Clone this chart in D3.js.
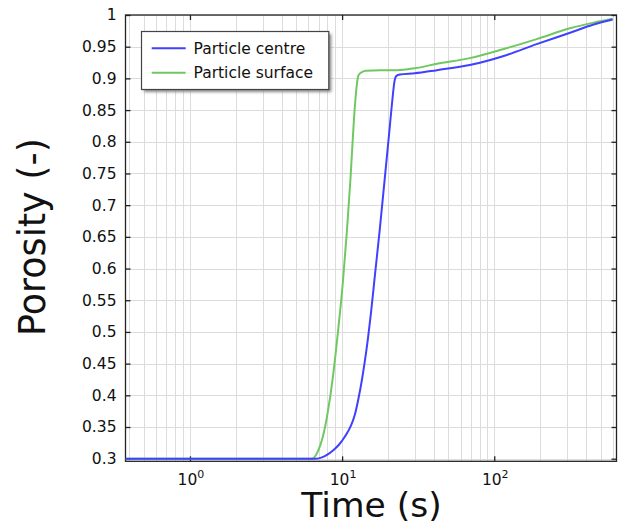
<!DOCTYPE html>
<html><head><meta charset="utf-8">
<script src="https://cdn.jsdelivr.net/npm/d3@7"></script>
<style>body{margin:0;background:#fff}svg{display:block}text{font-family:"DejaVu Sans",sans-serif}</style>
</head><body><svg id="c" width="623" height="525"></svg>
<script>
const seriesNames = ["Particle centre", "Particle surface"];
const seriesColors = ["#4040ff", "#70c862"];
const centreTime = [0.377, 2, 5, 6.73, 7.37, 7.95, 8.71, 9.53, 10.44, 11.43, 12.15, 12.81, 13.51, 14.13, 14.79, 15.48, 16.44, 17.74, 19.12, 20.32, 21.27, 22.08, 22.76, 24.01, 30, 42, 69, 114, 190, 315, 450, 600];
const centrePorosity = [0.3, 0.3, 0.3, 0.3, 0.302, 0.306, 0.313, 0.322, 0.335, 0.352, 0.37, 0.395, 0.425, 0.455, 0.49, 0.53, 0.59, 0.665, 0.745, 0.81, 0.86, 0.895, 0.904, 0.906, 0.908, 0.913, 0.921, 0.935, 0.954, 0.972, 0.985, 0.993];
const surfaceTime = [0.377, 2, 5, 6.34, 6.94, 7.48, 8.07, 8.71, 9.39, 10.13, 10.76, 11.34, 11.96, 12.43, 12.81, 13.51, 14.35, 18, 23, 30, 42, 69, 114, 190, 315, 450, 600];
const surfacePorosity = [0.3, 0.3, 0.3, 0.3, 0.312, 0.335, 0.375, 0.43, 0.5, 0.58, 0.66, 0.74, 0.835, 0.885, 0.905, 0.91, 0.912, 0.913, 0.913, 0.916, 0.923, 0.932, 0.946, 0.962, 0.979, 0.988, 0.994];
const yTicks = [0.3, 0.35, 0.4, 0.45, 0.5, 0.55, 0.6, 0.65, 0.7, 0.75, 0.8, 0.85, 0.9, 0.95, 1];
const xTickExponents = [0, 1, 2];
const xLabel = "Time (s)";
const yLabel = "Porosity (-)";

const L = 125.5, R = 616.5, T = 15, B = 461.3;
const svg = d3.select("#c");
const x = d3.scaleLog().domain([0.377, 636]).range([L, R]);
const y = d3.scaleLinear().domain([0.2959, 1.0]).range([B, T]);

// grid
const g = svg.append("g");
const minor = [];
for (let e = -1; e <= 2; e++) for (let m = 1; m <= 9; m++) { const v = m * Math.pow(10, e); if (v > 0.377 && v < 636) minor.push(v); }
g.selectAll(".vx").data(minor).enter().append("line")
  .attr("x1", d => Math.round(x(d)) + 0.5).attr("x2", d => Math.round(x(d)) + 0.5)
  .attr("y1", T).attr("y2", B).attr("stroke", "#dcdcdc").attr("stroke-width", 1);
g.selectAll(".hy").data(yTicks).enter().append("line")
  .attr("x1", L).attr("x2", R)
  .attr("y1", d => Math.round(y(d)) + 0.5).attr("y2", d => Math.round(y(d)) + 0.5)
  .attr("stroke", "#dcdcdc").attr("stroke-width", 1);

// axes
const fmt = d => d3.format("~g")(d);
const axL = d3.axisLeft(y).tickValues(yTicks).tickSize(-5).tickPadding(9).tickFormat(fmt);
const axR = d3.axisRight(y).tickValues(yTicks).tickSize(-5).tickFormat("");
const xt = xTickExponents.map(e => Math.pow(10, e));
const axB = d3.axisBottom(x).tickValues(xt).tickSize(-5).tickFormat("");
const axT = d3.axisTop(x).tickValues(xt).tickSize(-5).tickFormat("");
function style(sel) {
  sel.selectAll("path").attr("stroke", "#222").attr("stroke-width", 1.3);
  sel.selectAll("line").attr("stroke", "#222").attr("stroke-width", 1.3);
  sel.selectAll("text").attr("font-size", 15.5).attr("fill", "#111").attr("font-family", "DejaVu Sans");
}
svg.append("g").attr("transform", `translate(${L},0)`).call(axL).call(style);
svg.append("g").attr("transform", `translate(${R},0)`).call(axR).call(style);
svg.append("g").attr("transform", `translate(0,${B})`).call(axB).call(style);
svg.append("g").attr("transform", `translate(0,${T})`).call(axT).call(style);
svg.selectAll(".domain").attr("d", null);
svg.append("rect").attr("x", L).attr("y", T).attr("width", R - L).attr("height", B - T)
  .attr("fill", "none").attr("stroke", "#222").attr("stroke-width", 1.3);

// x tick labels with superscripts
const xl = svg.append("g");
xTickExponents.forEach(e => {
  const t = xl.append("text").attr("x", x(Math.pow(10, e)) + 1).attr("y", B + 24)
    .attr("text-anchor", "middle").attr("font-size", 15.5).attr("fill", "#111");
  t.append("tspan").text("10");
  t.append("tspan").attr("dy", -7).attr("font-size", 11).text(String(e));
});

// lines
const line = d3.line().x(d => x(d[0])).y(d => y(d[1])).curve(d3.curveMonotoneX);
const data = [d3.zip(centreTime, centrePorosity), d3.zip(surfaceTime, surfacePorosity)];
svg.append("defs").append("clipPath").attr("id", "clip").append("rect")
  .attr("x", L).attr("y", T).attr("width", R - L).attr("height", B - T);
const lg = svg.append("g").attr("clip-path", "url(#clip)");
[1, 0].forEach(i => {
  lg.append("path").attr("d", line(data[i])).attr("fill", "none")
    .attr("stroke", seriesColors[i]).attr("stroke-width", 2);
});

// legend
const defs = svg.select("defs");
const f = defs.append("filter").attr("id", "sh").attr("x", "-10%").attr("y", "-10%").attr("width", "130%").attr("height", "140%");
f.append("feGaussianBlur").attr("stdDeviation", 1.5);
svg.append("rect").attr("x", 144).attr("y", 34).attr("width", 187.3).attr("height", 58)
  .attr("fill", "#888").attr("filter", "url(#sh)");
svg.append("rect").attr("x", 141.5).attr("y", 31.5).attr("width", 187.3).attr("height", 58)
  .attr("fill", "#fff").attr("stroke", "#444").attr("stroke-width", 1.2);
seriesNames.forEach((n, i) => {
  const yy = 48.3 + i * 24.4;
  svg.append("line").attr("x1", 151.7).attr("x2", 185.7).attr("y1", yy).attr("y2", yy)
    .attr("stroke", seriesColors[i]).attr("stroke-width", 2);
  svg.append("text").attr("x", 193.5).attr("y", yy + 5.5).attr("font-size", 15.5).attr("fill", "#111").text(n);
});

// titles
svg.append("text").attr("x", 371.5).attr("y", 517).attr("text-anchor", "middle")
  .attr("font-size", 34.5).attr("fill", "#111").text(xLabel);
svg.append("text").attr("transform", "translate(45,237) rotate(-90)").attr("text-anchor", "middle")
  .attr("font-size", 36.5).attr("fill", "#111").text(yLabel);
</script></body></html>
